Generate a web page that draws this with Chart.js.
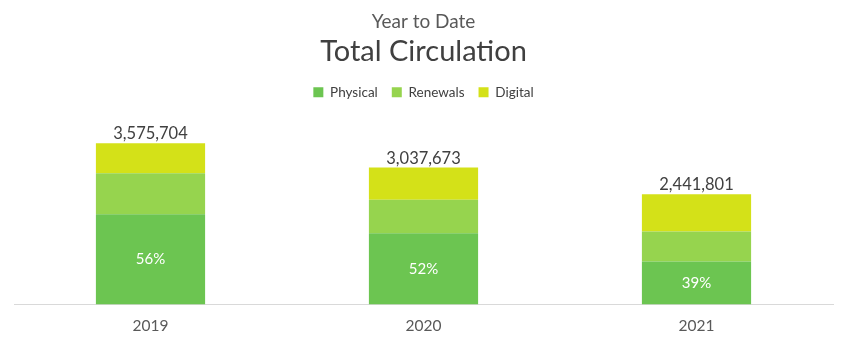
<!DOCTYPE html>
<html>
<head>
<meta charset="utf-8">
<script src="https://cdn.jsdelivr.net/npm/chart.js@4/dist/chart.umd.min.js"></script>
<style>
  html, body { margin: 0; padding: 0; background: #fff; }
  #wrap { width: 850px; height: 340px; }
</style>
</head>
<body>
<div id="wrap"><canvas id="circ"></canvas></div>
<script>
const years = ['2019', '2020', '2021'];
const totals = [3575704, 3037673, 2441801];
const physical = [2002394, 1579590, 952302];
const renewals = [907024, 740000, 666000];
const digital = [666286, 718083, 823499];

const FONT = "'Lato', 'Open Sans', sans-serif";

// totals above each stack, physical share inside the bottom segment
const barLabels = {
    id: 'barLabels',
    afterDatasetsDraw(chart) {
        const ctx = chart.ctx;
        const y = chart.scales.y;
        ctx.save();
        ctx.textAlign = 'center';
        const bottomMeta = chart.getDatasetMeta(0);
        bottomMeta.data.forEach((bar, i) => {
            const pct = Math.round(physical[i] / totals[i] * 100) + '%';
            ctx.fillStyle = '#ffffff';
            ctx.font = '15px ' + FONT;
            ctx.textBaseline = 'middle';
            ctx.fillText(pct, bar.x, (bar.y + bar.base) / 2);

            ctx.fillStyle = '#404040';
            ctx.font = '16.5px ' + FONT;
            ctx.textBaseline = 'bottom';
            ctx.fillText(totals[i].toLocaleString('en-US'), bar.x, y.getPixelForValue(totals[i]) - 1);
        });
        ctx.restore();
    }
};

// extra room between the legend and the bars
const legendGap = {
    id: 'legendGap',
    beforeInit(chart) {
        const fit = chart.legend.fit;
        chart.legend.fit = function () {
            fit.bind(chart.legend)();
            this.height += 15;
        };
    }
};

new Chart(document.getElementById('circ'), {
    type: 'bar',
    data: {
        labels: years,
        datasets: [
            { label: 'Physical', data: physical, backgroundColor: '#6cc551' },
            { label: 'Renewals', data: renewals, backgroundColor: '#96d44e' },
            { label: 'Digital', data: digital, backgroundColor: '#d4e118' }
        ]
    },
    options: {
        responsive: true,
        maintainAspectRatio: false,
        animation: false,
        layout: { padding: { left: 14, right: 17, top: 6, bottom: 1 } },
        datasets: {
            bar: { barPercentage: 0.8, categoryPercentage: 0.5 }
        },
        scales: {
            x: {
                stacked: true,
                grid: { display: false },
                border: { color: '#d9d9d9', width: 1 },
                ticks: { color: '#595959', font: { family: FONT, size: 15.5 }, padding: 4 }
            },
            y: {
                stacked: true,
                display: false,
                min: 0,
                max: 4000000
            }
        },
        plugins: {
            title: {
                display: true,
                text: 'Year to Date',
                color: '#595959',
                font: { family: FONT, size: 19, weight: 'normal' },
                padding: { top: 4, bottom: 1 }
            },
            subtitle: {
                display: true,
                text: 'Total Circulation',
                color: '#404040',
                font: { family: FONT, size: 29, weight: 'normal' },
                padding: { top: 0, bottom: 3 }
            },
            legend: {
                labels: {
                    color: '#404040',
                    font: { family: FONT, size: 13.5 },
                    boxWidth: 10,
                    boxHeight: 10,
                    padding: 14
                }
            },
            tooltip: { enabled: false }
        }
    },
    plugins: [barLabels, legendGap]
});
</script>
</body>
</html>
